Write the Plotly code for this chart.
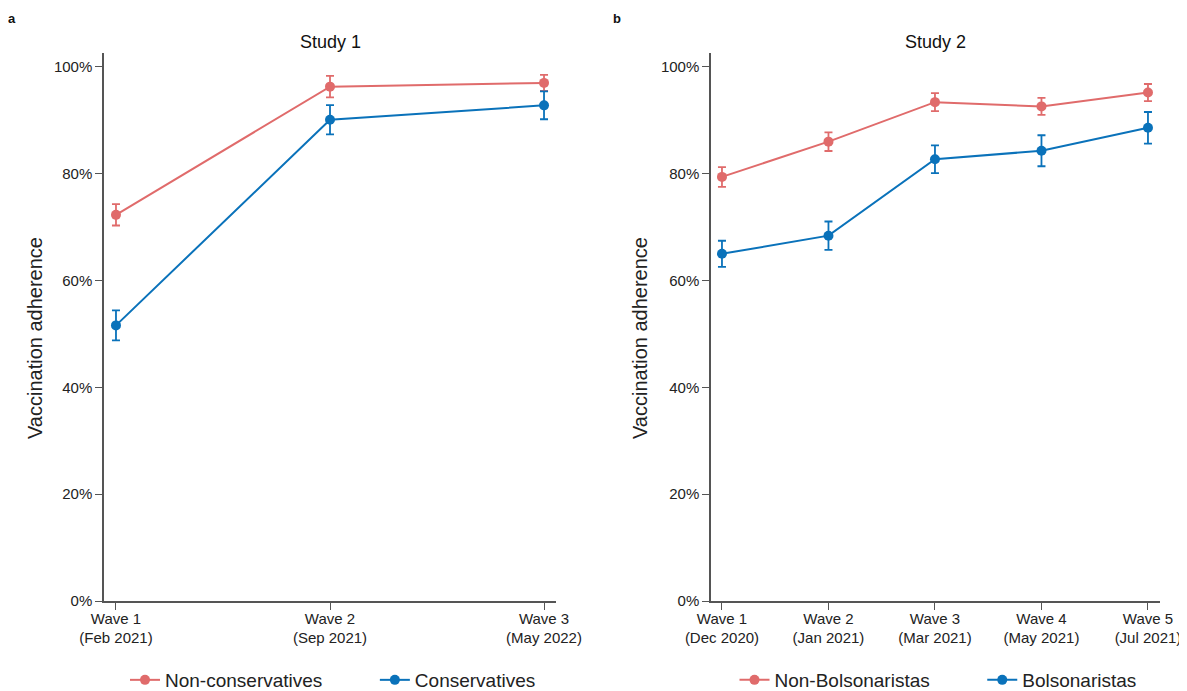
import plotly.graph_objects as go

# ---- data ----
s1_waves = [1, 2, 3]
s1_labels = ["Wave 1<br>(Feb 2021)", "Wave 2<br>(Sep 2021)", "Wave 3<br>(May 2022)"]
s1_noncons = [72.3, 96.3, 97.0]
s1_noncons_err = [2.0, 2.0, 1.5]
s1_cons = [51.6, 90.1, 92.8]
s1_cons_err = [2.8, 2.75, 2.6]

s2_waves = [1, 2, 3, 4, 5]
s2_labels = ["Wave 1<br>(Dec 2020)", "Wave 2<br>(Jan 2021)", "Wave 3<br>(Mar 2021)",
             "Wave 4<br>(May 2021)", "Wave 5<br>(Jul 2021)"]
s2_nonbols = [79.4, 86.0, 93.4, 92.6, 95.2]
s2_nonbols_err = [1.85, 1.75, 1.7, 1.6, 1.6]
s2_bols = [65.0, 68.4, 82.7, 84.3, 88.6]
s2_bols_err = [2.45, 2.65, 2.6, 2.9, 2.95]

y_ticks = [0, 20, 40, 60, 80, 100]
y_ticklabels = ["0%", "20%", "40%", "60%", "80%", "100%"]

RED = "#E06B6B"
BLUE = "#0A72BA"
FONT = "Liberation Sans, Arial, sans-serif"

# page body has an 8px default margin; the figure fills the rest of the window
OFF = 8
W, H = 1187 - OFF, 691 - OFF


def px(x):
    return (x - OFF) / W


def py(y):
    return 1 - (y - OFF) / H


fig = go.Figure()


def add(x, y, err, name, color, xa, ya, legend):
    fig.add_trace(go.Scatter(
        x=x, y=y, name=name, mode="lines+markers",
        line=dict(color=color, width=2),
        marker=dict(color=color, size=10),
        error_y=dict(type="data", array=err, visible=True, color=color,
                     thickness=1.8, width=4),
        xaxis=xa, yaxis=ya, legend=legend,
    ))


PAD = "\u00a0" * 9
add(s1_waves, s1_noncons, s1_noncons_err, "Non-conservatives" + PAD, RED, "x", "y", "legend")
add(s1_waves, s1_cons, s1_cons_err, "Conservatives", BLUE, "x", "y", "legend")
add(s2_waves, s2_nonbols, s2_nonbols_err, "Non-Bolsonaristas" + PAD, RED, "x2", "y2", "legend2")
add(s2_waves, s2_bols, s2_bols_err, "Bolsonaristas", BLUE, "x2", "y2", "legend2")

AX = dict(showline=True, linecolor="#555555", linewidth=1.5, ticks="outside",
          ticklen=7, tickcolor="#555555", tickwidth=1.2, showgrid=False,
          zeroline=False, ticklabeloverflow="allow",
          tickfont=dict(family=FONT, size=15, color="#222222"))
XAX = dict(AX, ticklabelstandoff=-4)

ydom = [py(601), py(53)]
LEG = dict(orientation="h", xanchor="center", y=py(680), yanchor="middle",
           font=dict(family=FONT, size=19, color="#222222"),
           bgcolor="rgba(0,0,0,0)")
fig.update_layout(
    width=W, height=H,
    margin=dict(l=0, r=0, t=0, b=0, autoexpand=False),
    paper_bgcolor="white", plot_bgcolor="white",
    font=dict(family=FONT, color="#222222"),
    xaxis=dict(domain=[px(104), px(556)], range=[0.944, 3.056],
               tickvals=s1_waves, ticktext=s1_labels, anchor="y", **XAX),
    yaxis=dict(domain=ydom, range=[0, 102.6], tickvals=y_ticks,
               ticktext=y_ticklabels, anchor="x", **AX),
    xaxis2=dict(domain=[px(711), px(1160)], range=[0.897, 5.113],
                tickvals=s2_waves, ticktext=s2_labels, anchor="y2", **XAX),
    yaxis2=dict(domain=ydom, range=[0, 102.6], tickvals=y_ticks,
                ticktext=y_ticklabels, anchor="x2", **AX),
    legend=dict(x=px(333), **LEG),
    legend2=dict(x=px(938), **LEG),
    showlegend=True,
)

annots = [
    dict(text="<b>a</b>", x=px(12), y=py(18), size=13),
    dict(text="<b>b</b>", x=px(617), y=py(18), size=13),
    dict(text="Study 1", x=px(330), y=py(42), size=18),
    dict(text="Study 2", x=px(935), y=py(42), size=18),
]
for a in annots:
    fig.add_annotation(text=a["text"], x=a["x"], y=a["y"], xref="paper", yref="paper",
                       showarrow=False, xanchor="center", yanchor="middle",
                       font=dict(family=FONT, size=a["size"], color="#111111"))

for xpos in [35, 640]:
    fig.add_annotation(text="Vaccination adherence", x=px(xpos), y=py(338),
                       xref="paper", yref="paper", showarrow=False, textangle=-90,
                       xanchor="center", yanchor="middle",
                       font=dict(family=FONT, size=20, color="#222222"))

fig.write_html("out.html")
